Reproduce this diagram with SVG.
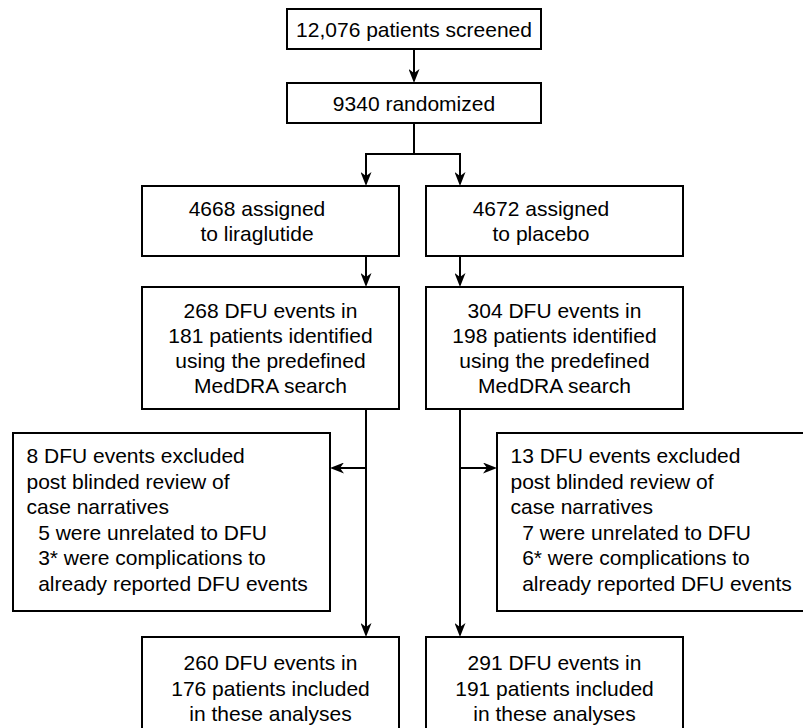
<svg xmlns="http://www.w3.org/2000/svg" width="803" height="728" viewBox="0 0 803 728">
<defs>
<marker id="arr" viewBox="0 0 14 11" refX="10" refY="5.5" markerWidth="14" markerHeight="11" markerUnits="userSpaceOnUse" orient="auto">
<path d="M0,0 L14,5.5 L0,11 L4,5.5 Z" fill="#000"/>
</marker>
<style>
.box{fill:#fff;stroke:#000;stroke-width:2}
.t{font-family:"Liberation Sans",Arial,sans-serif;font-size:21px;fill:#000}
.c{text-anchor:middle}
.ln{fill:none;stroke:#000;stroke-width:2}
.a{marker-end:url(#arr)}
</style>
</defs>
<rect width="803" height="728" fill="#fff"/>
<g id="connectors">
<path class="ln a" d="M414,49 V79"/>
<path class="ln" d="M414,123 V154 M366,154 H460"/>
<path class="ln a" d="M366,153 V182"/>
<path class="ln a" d="M460,153 V182"/>
<path class="ln a" d="M366,256 V283"/>
<path class="ln a" d="M460,256 V283"/>
<path class="ln a" d="M366,409 V633"/>
<path class="ln a" d="M460,409 V633"/>
<path class="ln a" d="M366,468 H334"/>
<path class="ln a" d="M460,468 H493"/>
</g>
<g id="screened">
<rect class="box" x="287" y="9" width="254" height="40"/>
<text class="t c" x="414" y="36.5">12,076 patients screened</text>
</g>
<g id="randomized">
<rect class="box" x="287" y="83" width="254" height="40"/>
<text class="t c" x="414" y="110.5">9340 randomized</text>
</g>
<g id="lira">
<rect class="box" x="142" y="186" width="257" height="70"/>
<text class="t c" x="257" y="215.5">4668 assigned</text>
<text class="t c" x="257" y="240.5">to liraglutide</text>
</g>
<g id="placebo">
<rect class="box" x="426" y="186" width="257" height="70"/>
<text class="t c" x="541" y="215.5">4672 assigned</text>
<text class="t c" x="541" y="240.5">to placebo</text>
</g>
<g id="lira-dfu">
<rect class="box" x="142" y="287" width="257" height="122"/>
<text class="t c" x="270.5" y="317.5">268 DFU events in</text>
<text class="t c" x="270.5" y="342.8">181 patients identified</text>
<text class="t c" x="270.5" y="368.1">using the predefined</text>
<text class="t c" x="270.5" y="393.4">MedDRA search</text>
</g>
<g id="placebo-dfu">
<rect class="box" x="426" y="287" width="257" height="122"/>
<text class="t c" x="554.5" y="317.5">304 DFU events in</text>
<text class="t c" x="554.5" y="342.8">198 patients identified</text>
<text class="t c" x="554.5" y="368.1">using the predefined</text>
<text class="t c" x="554.5" y="393.4">MedDRA search</text>
</g>
<g id="lira-excl">
<rect class="box" x="13" y="433" width="317" height="178"/>
<text class="t" x="26.5" y="463">8 DFU events excluded</text>
<text class="t" x="26.5" y="488.6">post blinded review of</text>
<text class="t" x="26.5" y="514.2">case narratives</text>
<text class="t" x="38.2" y="539.8">5 were unrelated to DFU</text>
<text class="t" x="38.2" y="565.4">3* were complications to</text>
<text class="t" x="38.2" y="591">already reported DFU events</text>
</g>
<g id="placebo-excl">
<rect class="box" x="497" y="433" width="317" height="178"/>
<text class="t" x="510.5" y="463">13 DFU events excluded</text>
<text class="t" x="510.5" y="488.6">post blinded review of</text>
<text class="t" x="510.5" y="514.2">case narratives</text>
<text class="t" x="522.2" y="539.8">7 were unrelated to DFU</text>
<text class="t" x="522.2" y="565.4">6* were complications to</text>
<text class="t" x="522.2" y="591">already reported DFU events</text>
</g>
<g id="lira-final">
<rect class="box" x="142" y="637" width="257" height="122"/>
<text class="t c" x="270.5" y="670">260 DFU events in</text>
<text class="t c" x="270.5" y="695.5">176 patients included</text>
<text class="t c" x="270.5" y="721">in these analyses</text>
</g>
<g id="placebo-final">
<rect class="box" x="426" y="637" width="257" height="122"/>
<text class="t c" x="554.5" y="670">291 DFU events in</text>
<text class="t c" x="554.5" y="695.5">191 patients included</text>
<text class="t c" x="554.5" y="721">in these analyses</text>
</g>
</svg>
